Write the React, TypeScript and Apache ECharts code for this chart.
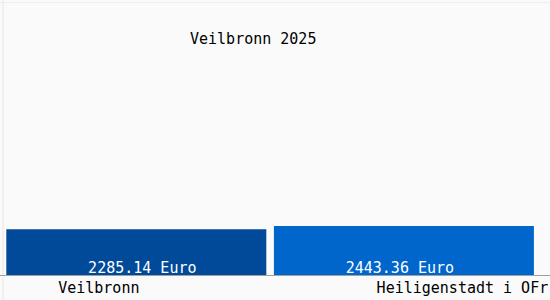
import React, { useEffect, useRef } from "react";
import * as echarts from "echarts";

const categories = ["Veilbronn", "Heiligenstadt i OFr"];
const values = [2285.14, 2443.36];
const barColors = ["#004a99", "#0066cc"];
const titleText = "Veilbronn 2025";

const FONT = "DejaVu Sans Mono";
const labelOffsets = [[6, 0], [-4, 0]];

export default function App() {
  const ref = useRef<HTMLDivElement>(null);
  useEffect(() => {
    document.body.style.margin = "0";
    const chart = echarts.init(ref.current!, null, { renderer: "svg" });
    chart.setOption({
      animation: false,
      backgroundColor: "#fafafa",
      title: {
        text: titleText,
        left: 190,
        top: 31,
        padding: 0,
        textStyle: { fontFamily: FONT, fontSize: 15, fontWeight: "normal", color: "#000" },
      },
      grid: { left: 2.5, right: 7.5, top: 0, bottom: 25, containLabel: false },
      xAxis: {
        type: "category",
        data: categories,
        axisTick: { show: false },
        axisLine: { show: false },
        axisLabel: {
          margin: 5,
          interval: 0,
          formatter: (v: string, i: number) => (i === 0 ? `{a|${v}}` : `{b|${v}}`),
          rich: {
            a: { fontFamily: FONT, fontSize: 15, color: "#000", padding: [0, 75, 0, 0] },
            b: { fontFamily: FONT, fontSize: 15, color: "#000", padding: [0, 0, 0, 117] },
          },
        },
      },
      yAxis: { type: "value", min: 0, max: 13700, show: false, splitLine: { show: false } },
      series: [
        {
          type: "bar",
          barWidth: 260,
          data: values.map((v, i) => ({
            value: v,
            itemStyle: { color: barColors[i] },
            label: { offset: labelOffsets[i] },
          })),
          label: {
            show: true,
            position: "insideBottom",
            distance: 0,
            formatter: (p: any) => `${p.value.toFixed(2)} Euro`,
            fontFamily: FONT,
            fontSize: 15,
            color: "#ffffff",
          },
        },
      ],
      graphic: [
        { type: "line", shape: { x1: 3, y1: 0, x2: 3, y2: 300 }, style: { stroke: "#e6e6e6", lineWidth: 1 } },
        { type: "line", shape: { x1: 0, y1: 2.5, x2: 550, y2: 2.5 }, style: { stroke: "#eeeeee", lineWidth: 1 } },
        { type: "line", shape: { x1: 0, y1: 275.5, x2: 550, y2: 275.5 }, style: { stroke: "#a0a0a0", lineWidth: 1 }, z: 10 },
      ],
    });
    return () => chart.dispose();
  }, []);
  return <div ref={ref} style={{ position: "fixed", left: 0, top: 0, width: 550, height: 300 }} />;
}
